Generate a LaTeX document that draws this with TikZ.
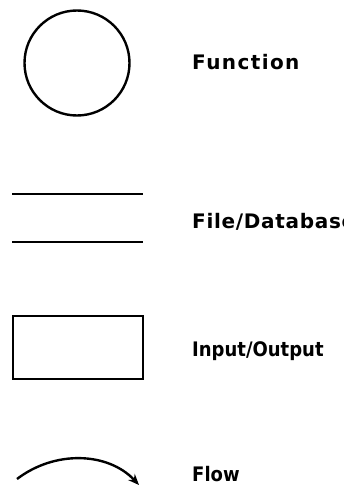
\documentclass[tikz,border=0pt]{standalone}
\usepackage{fontspec}
\setmainfont{DejaVu Sans}
\newfontfamily\labelfont[LetterSpace=7]{DejaVu Sans Bold}
\newfontfamily\dbfont[LetterSpace=3.5]{DejaVu Sans Bold}
\newfontfamily\narrowfont{DejaVu Sans Condensed Bold}
\usetikzlibrary{arrows.meta}

\begin{document}
\begin{tikzpicture}[x=1pt, y=-1pt, >={Stealth[length=11pt,width=9pt]},
    symbol/.style={draw, line width=2.4pt},
    legend/.style={anchor=base west, inner sep=0pt, font=\fontsize{20}{22}\selectfont}]

    % Page
    \clip (0,0) rectangle (343,487);

    % Function
    \node[symbol, circle, minimum size=105pt, inner sep=0pt] (fn) at (77,63) {};
    \node[legend] (fnlabel) at (192,70) {\labelfont Function};

    % File/Database
    \draw[symbol, line width=2.2pt] (12,194) -- (143,194);
    \draw[symbol, line width=2.2pt] (12,242) -- (143,242);
    \node[legend] (dblabel) at (192,228) {\dbfont File/Database};

    % Input/Output
    \node[symbol, rectangle, minimum width=130pt, minimum height=63pt, inner sep=0pt] (io) at (78,347.5) {};
    \node[legend] (iolabel) at (192,356) {\narrowfont Input/Output};

    % Flow
    \coordinate (flowstart) at (17,479);
    \coordinate (flowend) at (139,485);
    \draw[->, line width=2.4pt] (flowstart) .. controls (55,450) and (108,452) .. (flowend);
    \node[legend] (flowlabel) at (192,481) {\narrowfont Flow};

\end{tikzpicture}
\end{document}
